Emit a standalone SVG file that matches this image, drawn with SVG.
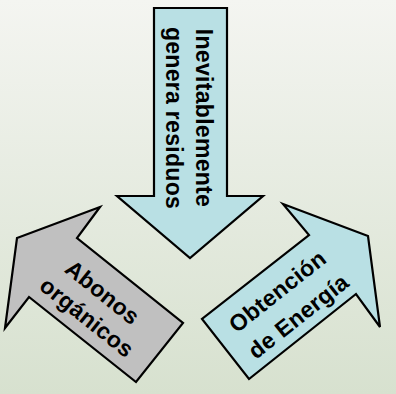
<svg xmlns="http://www.w3.org/2000/svg" width="396" height="394" viewBox="0 0 396 394">
<defs>
<linearGradient id="bg" x1="0" y1="0" x2="0" y2="1">
<stop offset="0" stop-color="#f4f5f1"/>
<stop offset="1" stop-color="#d7e1cf"/>
</linearGradient>
<style>
.arrow{stroke:#000;stroke-width:2.2;stroke-linejoin:miter}
.blue{fill:#b9e0e4}
.gray{fill:#c0c0c0}
.lbl{font-family:"Liberation Sans",Arial,sans-serif;font-weight:bold;font-size:23px;letter-spacing:0.3px;fill:#000;text-anchor:middle}
</style>
</defs>
<rect width="396" height="394" fill="url(#bg)"/>
<g id="connectors"></g>
<g id="node-residuos">
<polygon class="arrow blue" points="154,8 227,8 227,196 263,196 190,258 117,196 154,196"/>
<text class="lbl" transform="translate(196,118) rotate(90)">Inevitablemente</text>
<text class="lbl" transform="translate(166,118) rotate(90)">genera residuos</text>
</g>
<g id="node-abonos">
<polygon class="arrow gray" points="100,207 17,238 5,328 29,297 136,382 183,323 77,238"/>
<text class="lbl" transform="translate(97.6,298.5) rotate(38.7)">Abonos</text>
<text class="lbl" transform="translate(82,323.5) rotate(38.7)">orgánicos</text>
</g>
<g id="node-energia">
<polygon class="arrow blue" points="283,204 368,236 380,327 356,294 249,379 202,319 309,235"/>
<text class="lbl" transform="translate(282.3,297.5) rotate(-38.4)">Obtención</text>
<text class="lbl" transform="translate(303.3,322.5) rotate(-38.4)">de Energía</text>
</g>
</svg>
